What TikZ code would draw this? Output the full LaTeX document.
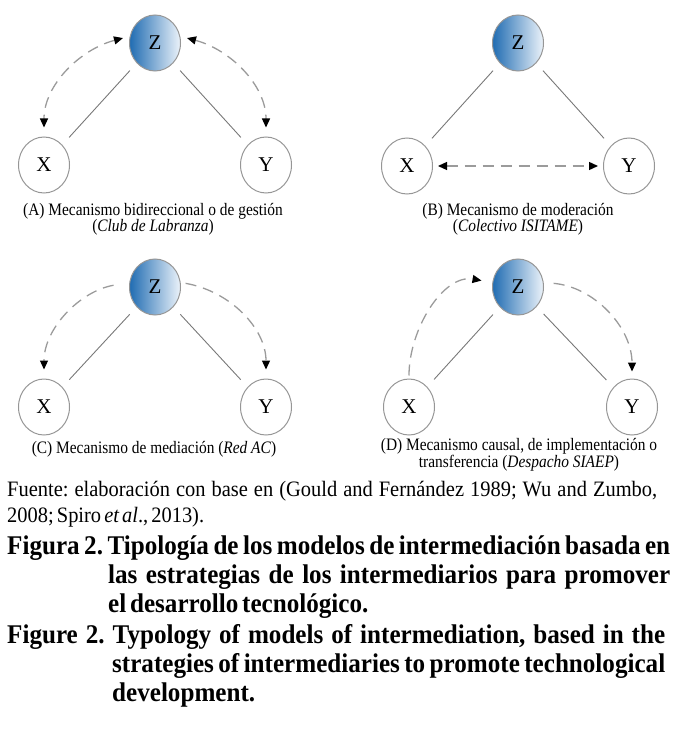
\documentclass[tikz,border=0pt]{standalone}
\usepackage{fontspec}
\setmainfont{Liberation Serif}
\newfontfamily\panelfont[FakeStretch=0.88]{Liberation Serif}
\newfontfamily\notefont[FakeStretch=0.93, WordSpace=0.8]{Liberation Serif}
\newfontfamily\titlefont[FakeStretch=0.93, WordSpace=0.6]{Liberation Serif}
\usetikzlibrary{arrows.meta, shapes.geometric}
\definecolor{zdark}{RGB}{32,108,178}
\definecolor{zlight}{RGB}{236,243,250}
\definecolor{ringgray}{RGB}{150,150,150}
\definecolor{dashgray}{RGB}{155,155,155}
\definecolor{linkgray}{RGB}{120,120,120}

\begin{document}
\begin{tikzpicture}[x=1pt, y=1pt,
  var/.style={ellipse, draw=ringgray, line width=1pt, minimum width=51pt,
              minimum height=56pt, inner sep=0pt,
              font=\fontsize{21}{21}\selectfont},
  mediator/.style={var, left color=zdark, right color=zlight},
  link/.style={draw=linkgray, line width=0.9pt, shorten <=10pt, shorten >=10pt},
  flow/.style={draw=dashgray, line width=1.3pt, dash pattern=on 11pt off 7pt,
               -{Triangle[length=9pt, width=8pt, color=black]}},
  twoway/.style={flow, {Triangle[length=9pt, width=8pt, color=black]}-{Triangle[length=9pt, width=8pt, color=black]}},
  panelcap/.style={font=\panelfont\fontsize{17.5}{16}\selectfont, align=center, inner sep=0pt},
  note/.style={font=\notefont\frenchspacing\fontsize{22}{22}\selectfont, anchor=base west, inner sep=0pt},
  title/.style={font=\titlefont\frenchspacing\bfseries\fontsize{27}{27}\selectfont, anchor=base west, inner sep=0pt}
]
\useasboundingbox (0,0) rectangle (680,-730);

% (A) bidireccional
\node[mediator] (za) at (155,-43) {Z};
\node[var] (xa) at (44,-165) {X};
\node[var] (ya) at (266,-165) {Y};
\draw[link] (xa) -- (za);
\draw[link] (za) -- (ya);
\draw[twoway, shorten <=7pt, shorten >=9pt] (za.165) to[out=195, in=90] (xa.north);
\draw[twoway, shorten <=7pt, shorten >=9pt] (za.15) to[out=-15, in=90] (ya.north);
\node[panelcap] (capa) at (153,-219)
  {(A) Mecanismo bidireccional o de gestión\\(\textit{Club de Labranza})};

% (B) moderacion
\node[mediator] (zb) at (518,-43) {Z};
\node[var] (xb) at (407,-166) {X};
\node[var] (yb) at (629,-166) {Y};
\draw[link] (xb) -- (zb);
\draw[link] (zb) -- (yb);
\draw[twoway, shorten <=5pt, shorten >=5pt] (xb) -- (yb);
\node[panelcap] (capb) at (518,-219)
  {(B) Mecanismo de moderación\\(\textit{Colectivo ISITAME})};

% (C) mediacion
\node[mediator] (zc) at (155,-287) {Z};
\node[var] (xc) at (44,-407) {X};
\node[var] (yc) at (266,-407) {Y};
\draw[link] (xc) -- (zc);
\draw[link] (zc) -- (yc);
\draw[flow, shorten <=16pt, shorten >=9pt] (zc.170) to[out=190, in=90] (xc.north);
\draw[flow, shorten <=5pt, shorten >=9pt] (zc.10) to[out=-10, in=90] (yc.north);
\node[panelcap] (capc) at (154,-449)
  {(C) Mecanismo de mediación (\textit{Red AC})};

% (D) causal
\node[mediator] (zd) at (518,-287) {Z};
\node[var] (xd) at (409,-407) {X};
\node[var] (yd) at (632,-407) {Y};
\draw[link] (xd) -- (zd);
\draw[link] (zd) -- (yd);
\draw[flow, shorten <=3pt, shorten >=11pt] (xd.north) to[out=90, in=170] (zd.170);
\draw[flow, shorten <=10pt, shorten >=7pt] (zd.10) to[out=-5, in=90] (yd.north);
\node[panelcap] (capd) at (519,-455)
  {(D) Mecanismo causal, de implementación o\\transferencia (\textit{Despacho SIAEP})};

% fuente y titulo
\node[note] (src1) at (7,-496)
  {\makebox[650pt][s]{Fuente: elaboración con base en (Gould and Fernández 1989; Wu and Zumbo,}};
\node[note] (src2) at (7,-522) {2008; Spiro \textit{et al}., 2013).};
\node[title] (es1) at (7,-554)
  {\makebox[663pt][s]{Figura 2. Tipología de los modelos de intermediación basada en}};
\node[title] (es2) at (108,-583)
  {\makebox[562pt][s]{las estrategias de los intermediarios para promover}};
\node[title] (es3) at (108,-612) {el desarrollo tecnológico.};
\node[title] (en1) at (7,-643)
  {\makebox[658pt][s]{Figure 2. Typology of models of intermediation, based in the}};
\node[title] (en2) at (112,-672)
  {\makebox[553pt][s]{strategies of intermediaries to promote technological}};
\node[title] (en3) at (112,-701) {development.};
\end{tikzpicture}
\end{document}
